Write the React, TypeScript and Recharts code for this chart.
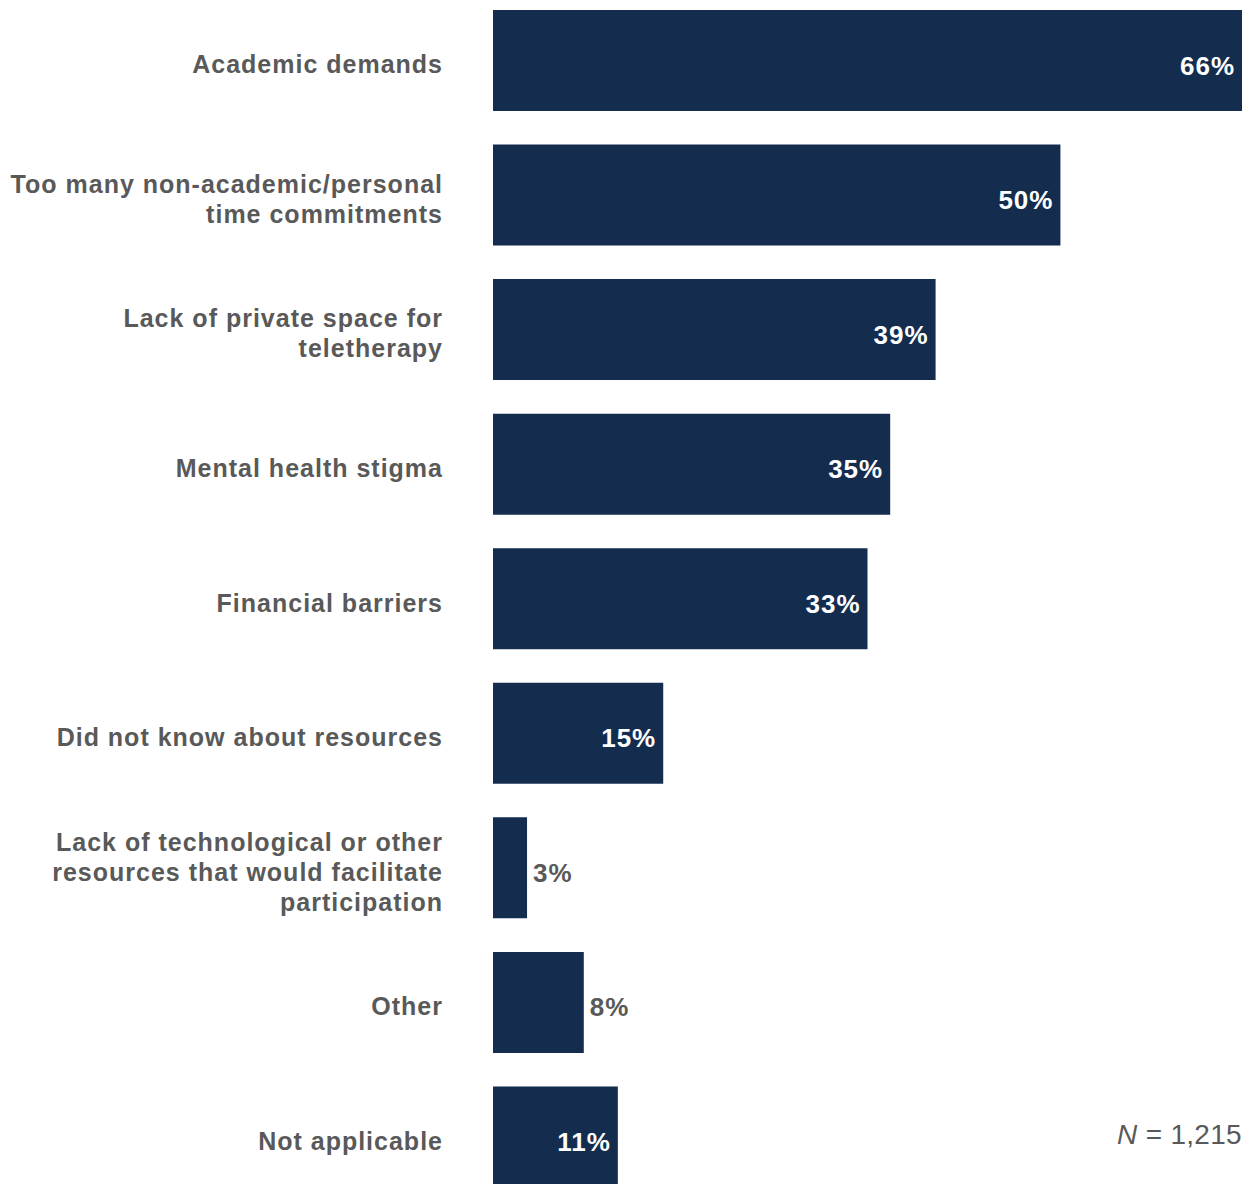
import React from 'react';
import { BarChart, Bar, XAxis, YAxis, LabelList } from 'recharts';

// categories (each entry = lines of the axis label)
const categories: string[][] = [
  ['Academic demands'],
  ['Too many non-academic/personal', 'time commitments'],
  ['Lack of private space for', 'teletherapy'],
  ['Mental health stigma'],
  ['Financial barriers'],
  ['Did not know about resources'],
  ['Lack of technological or other', 'resources that would facilitate', 'participation'],
  ['Other'],
  ['Not applicable'],
];

const percents = [66, 50, 39, 35, 33, 15, 3, 8, 11];

const sampleNote = '1,215';

const data = categories.map((lines, i) => ({
  label: lines.join(' '),
  lines,
  value: percents[i],
}));

const BAR_COLOR = '#142d4f';
const TEXT_GRAY = '#595959';
const FONT = '"Liberation Sans", Arial, sans-serif';
const LABEL_RIGHT = 443;

const CategoryTick = (props: any) => {
  const { y, index } = props;
  const lines: string[] = data[index] ? data[index].lines : [props.payload.value];
  const lineH = 30;
  const startY = y + 4 - ((lines.length - 1) * lineH) / 2;
  return (
    <text
      x={LABEL_RIGHT}
      y={startY}
      textAnchor="end"
      fill={TEXT_GRAY}
      fontFamily={FONT}
      fontWeight="bold"
      fontSize={25}
      letterSpacing={1}
      dominantBaseline="central"
    >
      {lines.map((l, i) => (
        <tspan key={i} x={LABEL_RIGHT} dy={i === 0 ? 0 : lineH}>
          {l}
        </tspan>
      ))}
    </text>
  );
};

const ValueLabel = (props: any) => {
  const { x, y, width, height, value } = props;
  const inside = value >= 10;
  const cy = y + height / 2 + 5;
  return (
    <text
      x={inside ? x + width - 7 : x + width + 6}
      y={cy}
      textAnchor={inside ? 'end' : 'start'}
      fill={inside ? '#ffffff' : TEXT_GRAY}
      fontFamily={FONT}
      fontWeight="bold"
      fontSize={26}
      letterSpacing={1}
      dominantBaseline="central"
    >
      {value}%
    </text>
  );
};

export default function App() {
  return (
    <div
      style={{
        position: 'absolute',
        left: 0,
        top: 0,
        width: 1252,
        height: 1184,
        overflow: 'hidden',
        background: '#fff',
      }}
    >
      <div style={{ position: 'absolute', left: 0, top: -7 }}>
        <BarChart
          layout="vertical"
          width={1252}
          height={1211}
          data={data}
          margin={{ top: 0, right: 10, bottom: 0, left: 0 }}
        >
          <XAxis type="number" domain={[0, 65.7]} hide />
          <YAxis
            type="category"
            dataKey="label"
            width={493}
            axisLine={false}
            tickLine={false}
            interval={0}
            tick={<CategoryTick />}
          />
          <Bar dataKey="value" fill={BAR_COLOR} barSize={101} isAnimationActive={false}>
            <LabelList dataKey="value" content={<ValueLabel />} />
          </Bar>
        </BarChart>
      </div>
      <div
        style={{
          position: 'absolute',
          right: 10,
          top: 1119,
          fontFamily: FONT,
          fontSize: 28,
          color: TEXT_GRAY,
          letterSpacing: 0.3,
        }}
      >
        <i>N</i> = {sampleNote}
      </div>
    </div>
  );
}
